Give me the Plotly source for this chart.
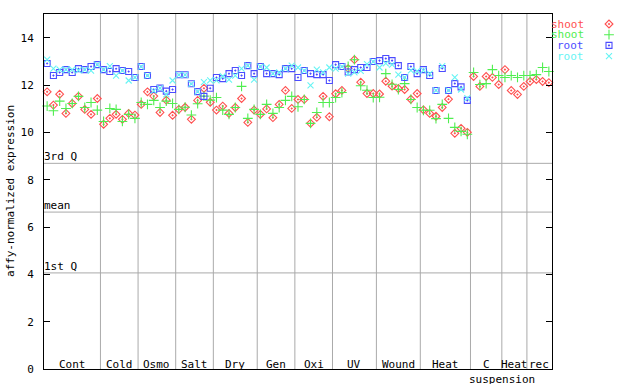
import plotly.graph_objects as go

# ---- data ----
groups = ["Cont", "Cold", "Osmo", "Salt", "Dry", "Gen", "Oxi", "UV", "Wound", "Heat", "C", "Heat", "rec"]
counts = [9, 6, 6, 6, 7, 6, 6, 7, 7, 8, 5, 4, 4]

shoot_1 = [11.71, 11.15, 11.61, 10.80, 11.22, 11.52, 10.97, 10.76, 11.43,
           10.34, 10.59, 10.76, 10.55, 10.80, 10.73,
           11.18, 11.71, 11.53, 10.84, 11.36, 10.72,
           10.97, 11.06, 10.55, 11.35, 11.86, 11.27,
           10.94, 11.11, 10.80, 11.05, 11.43, 10.42, 10.94,
           10.76, 10.99, 10.62, 11.18, 11.77, 11.01,
           11.39, 11.39, 10.38, 10.63, 11.52, 10.66,
           11.63, 11.77, 12.69, 13.07, 12.12, 11.64, 11.64,
           11.62, 12.16, 11.95, 11.85, 11.81, 11.40, 11.64,
           10.95, 10.80, 10.68, 11.05, 11.40, 9.96, 10.17, 10.00,
           12.36, 11.94, 12.36, 12.32, 12.02,
           12.65, 11.77, 11.60, 11.94,
           12.15, 12.23, 12.15, 12.10]

shoot_2 = [11.11, 10.91, 11.32, 11.01, 11.22, 11.52, 11.05, 11.26, 10.94,
           10.46, 11.01, 10.97, 10.46, 10.76, 10.59,
           11.26, 11.18, 11.35, 11.05, 11.32, 11.22,
           10.97, 11.06, 10.73, 11.21, 11.53, 11.36,
           11.47, 10.94, 10.76, 11.05, 11.94, 10.59, 10.97,
           10.76, 11.18, 10.80, 11.05, 11.35, 11.52,
           11.08, 11.39, 10.38, 10.84, 11.26, 11.26,
           11.47, 11.68, 12.79, 13.07, 11.97, 11.78, 11.47,
           11.48, 12.48, 12.03, 11.81, 12.06, 11.39, 11.05,
           10.93, 10.93, 10.58, 11.18, 10.59, 10.21, 10.04, 9.92,
           12.53, 12.02, 12.06, 12.65, 12.40,
           12.32, 12.40, 12.32, 12.40,
           12.40, 12.44, 12.74, 12.57]

root_1 = [12.91, 12.40, 12.53, 12.65, 12.53, 12.69, 12.65, 12.78, 12.86,
          12.65, 12.57, 12.69, 12.61, 12.57, 12.32,
          12.78, 12.40, 11.81, 11.87, 11.74, 11.81,
          12.43, 12.43, 12.05, 11.72, 11.52, 11.86,
          12.32, 12.27, 12.48, 12.61, 12.40, 12.82, 12.48,
          12.78, 12.48, 12.48, 12.44, 12.69, 12.69,
          12.32, 12.61, 12.48, 12.44, 12.44, 12.19,
          12.86, 12.78, 12.55, 12.65, 12.74, 12.74, 12.99,
          13.03, 13.12, 13.03, 12.82, 12.32, 12.78, 12.48,
          12.65, 12.40, 11.77, 12.70, 11.77, 12.06, 11.92, 11.35] + [None] * 13

root_2 = [13.07, 12.69, 12.65, 12.65, 12.65, 12.62, 12.65, 12.61, 12.86,
          12.65, 12.80, 12.40, 12.61, 12.19, 12.32,
          12.78, 12.40, 11.75, 11.87, 11.60, 12.19,
          12.43, 12.43, 12.05, 11.72, 12.12, 12.20,
          12.20, 12.37, 12.23, 12.40, 12.69, 12.82, 12.23,
          12.78, 12.74, 12.48, 12.53, 12.69, 12.82,
          12.74, 12.61, 11.98, 12.65, 12.53, 12.74,
          12.69, 12.78, 12.48, 12.53, 12.60, 12.88, 12.99,
          12.74, 12.91, 12.86, 12.44, 12.32, 12.62, 12.59,
          12.62, 12.48, 11.77, 12.80, 11.77, 12.32, 11.81, 11.45] + [None] * 13

quartiles = {"3rd Q": 8.69, "mean": 6.63, "1st Q": 4.06}
y_ticks = [0, 2, 4, 6, 8, 10, 12, 14]

series = [
    ("shoot", shoot_1, "#ff5050", "diamond-open-dot"),
    ("shoot", shoot_2, "#50ee50", "cross-thin-open"),
    ("root", root_1, "#4c4cff", "square-open-dot"),
    ("root", root_2, "#66f4f4", "x-thin-open"),
]
sizes = [6, 7, 6, 6]

FONT = "DejaVu Sans Mono"
n = sum(counts)
xs = list(range(n))

fig = go.Figure()
for (name, vals, col, sym), sz in zip(series, sizes):
    fig.add_trace(go.Scatter(
        x=xs, y=vals, mode="markers", name=name, showlegend=False,
        marker=dict(symbol=sym, size=sz, color=col, line=dict(color=col, width=1.1)),
        xaxis="x", yaxis="y", cliponaxis=False))

# legend drawn in a side axis (page-pixel units)
for i, ((name, vals, col, sym), sz) in enumerate(zip(series, sizes)):
    ly = 24 + i * 10.7
    fig.add_trace(go.Scatter(
        x=[609], y=[ly], mode="markers", showlegend=False,
        marker=dict(symbol=sym, size=sz, color=col, line=dict(color=col, width=1.1)),
        xaxis="x2", yaxis="y2", hoverinfo="skip"))
    fig.add_annotation(x=586, y=ly, xref="x2", yref="y2", text=name, showarrow=False,
                       xanchor="right", yanchor="middle",
                       font=dict(family=FONT, size=11, color=col))

shapes = []
cum = 0
for g, c in zip(groups, counts):
    start = cum
    cum += c
    if cum < n:
        shapes.append(dict(type="line", xref="x", yref="y domain", x0=cum - 0.5, x1=cum - 0.5,
                           y0=0, y1=1, line=dict(color="#aaaaaa", width=1), layer="below"))
    fig.add_annotation(x=(start + cum - 1) / 2, y=0, xref="x", yref="y", text=g,
                       showarrow=False, xanchor="center", yanchor="bottom", yshift=-4,
                       font=dict(family=FONT, size=11, color="black"))

fig.add_annotation(x=72.6, y=0, xref="x", yref="y", text="suspension", showarrow=False,
                   xanchor="center", yanchor="top", yshift=-2,
                   font=dict(family=FONT, size=11, color="black"))

for lab, v in quartiles.items():
    shapes.append(dict(type="line", xref="x domain", yref="y", x0=0, x1=1, y0=v, y1=v,
                       line=dict(color="#aaaaaa", width=1), layer="below"))
    fig.add_annotation(x=0, y=v, xref="x domain", yref="y", text=lab, showarrow=False,
                       xanchor="left", yanchor="bottom", xshift=-2, yshift=-2,
                       font=dict(family=FONT, size=11, color="black"))

fig.add_annotation(x=-0.056, y=0.5, xref="paper", yref="paper", text="affy-normalized expression",
                   textangle=-90, showarrow=False, xanchor="center", yanchor="middle",
                   font=dict(family=FONT, size=11, color="black"))

plot_frac = 508 / 596
fig.update_layout(
    width=640, height=384,
    margin=dict(l=44, r=0, t=14, b=15, pad=0),
    paper_bgcolor="white", plot_bgcolor="white",
    shapes=shapes,
    xaxis=dict(domain=[0, plot_frac], range=[-0.5, n - 0.5], showgrid=False, zeroline=False,
               showticklabels=False, ticks="", showline=True, linecolor="black", linewidth=1,
               mirror=True, fixedrange=True),
    yaxis=dict(range=[0, 15], showgrid=False, zeroline=False, tickvals=y_ticks,
               ticks="inside", ticklen=6, tickcolor="black", tickwidth=1,
               showline=True, linecolor="black", linewidth=1, mirror="ticks",
               ticklabelstandoff=7,
               tickfont=dict(family=FONT, size=11, color="black"), fixedrange=True),
    xaxis2=dict(domain=[plot_frac, 1], range=[552, 640], visible=False, anchor="y2", fixedrange=True),
    yaxis2=dict(domain=[0, 1], range=[369, 14], visible=False, anchor="x2", fixedrange=True),
    showlegend=False,
)

fig.write_html("out.html", config={"displayModeBar": False},
               post_script="document.body.style.margin='0px';")
